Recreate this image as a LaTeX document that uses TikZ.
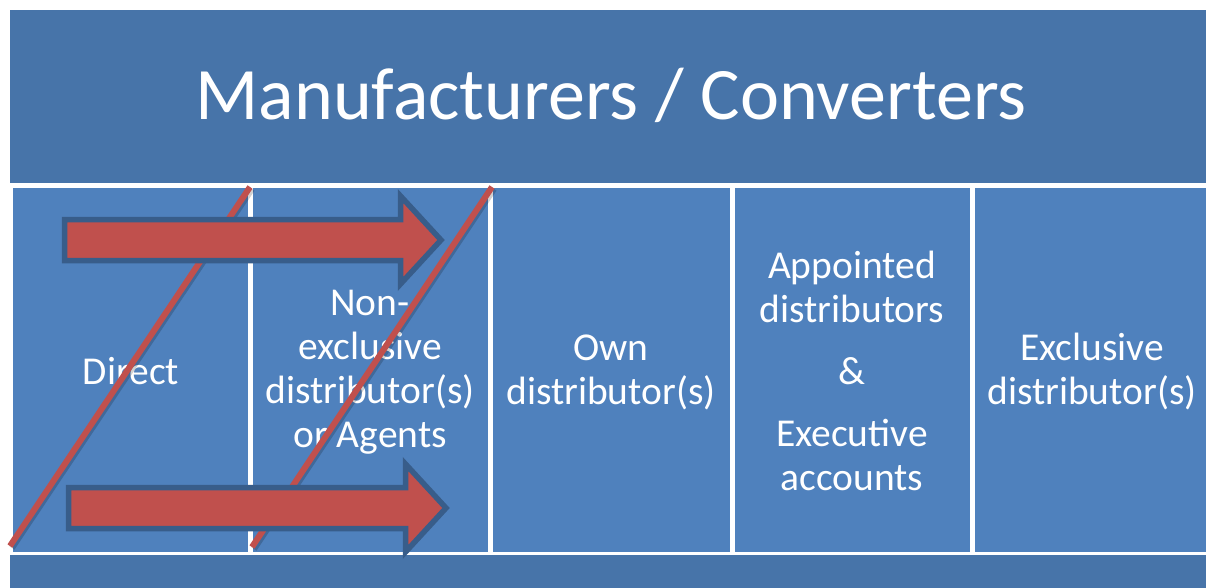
\documentclass[tikz,border=0pt]{standalone}
\usepackage{fontspec}
\setmainfont{Carlito}
\definecolor{banner}{HTML}{4774A9}
\definecolor{colfill}{HTML}{4F81BD}
\definecolor{redfill}{HTML}{C0504D}
\definecolor{outline}{HTML}{385D8A}
\tikzset{
  bandbox/.style={fill=banner, draw=none},
  colbox/.style={fill=colfill, draw=none},
  coltext/.style={text=white, align=center, font=\fontsize{39.5}{44}\selectfont},
  slash/.style={draw=redfill, line width=6pt, line cap=butt},
  slashshadow/.style={draw=black, opacity=0.18, line width=6pt},
  bigarrow/.style={fill=redfill, draw=outline, line width=5.5pt, line join=miter},
}
\begin{document}
\begin{tikzpicture}[x=1pt, y=-1pt]
\useasboundingbox (0,0) rectangle (1206,588);
\fill[white] (0,0) rectangle (1206,588);
\begin{scope}
\clip (0,0) rectangle (1206,588);
% banner and bottom band
\fill[bandbox] (10,10) rectangle (1215,183);
\fill[bandbox] (10,555) rectangle (1215,600);
% columns
\fill[colbox] (13,188) rectangle (248,552);
\fill[colbox] (253,188) rectangle (488,552);
\fill[colbox] (493,188) rectangle (730,552);
\fill[colbox] (735,188) rectangle (970,552);
\fill[colbox] (975,188) rectangle (1215,552);
% title
\node[text=white, font=\fontsize{74}{80}\selectfont, anchor=base] (title) at (611,120) {Manufacturers / Converters};
% column texts
\node[coltext] (c1) at (131,371) {Direct};
\node[coltext] (c2) at (370,372) {Non-\\exclusive\\distributor(s)\\or Agents};
\node[coltext] (c3) at (611,372) {Own\\distributor(s)};
\node[coltext] (c4) at (852,371) {Appointed\\distributors\\[18pt]\&\\[18pt]Executive\\accounts};
\node[coltext] (c5) at (1092,372) {Exclusive\\distributor(s)};
% red slashes
\coordinate (s1a) at (10,546);
\coordinate (s1b) at (250,187);
\coordinate (s2a) at (252,547);
\coordinate (s2b) at (492,187);
\draw[slashshadow] ([shift={(2,2)}]s1a) -- ([shift={(2,2)}]s1b);
\draw[slashshadow] ([shift={(2,2)}]s2a) -- ([shift={(2,2)}]s2b);
\draw[slash] (s1a) -- (s1b);
\draw[slash] (s2a) -- (s2b);
% arrows
\draw[bigarrow] (64.5,219.5) -- (400.5,219.5) -- (400.5,196) -- (441,240)
  -- (400.5,284) -- (400.5,260.5) -- (64.5,260.5) -- cycle;
\draw[bigarrow] (68.5,487.5) -- (405.5,487.5) -- (405.5,464) -- (446,508)
  -- (405.5,552) -- (405.5,528.5) -- (68.5,528.5) -- cycle;
\end{scope}
\end{tikzpicture}
\end{document}
